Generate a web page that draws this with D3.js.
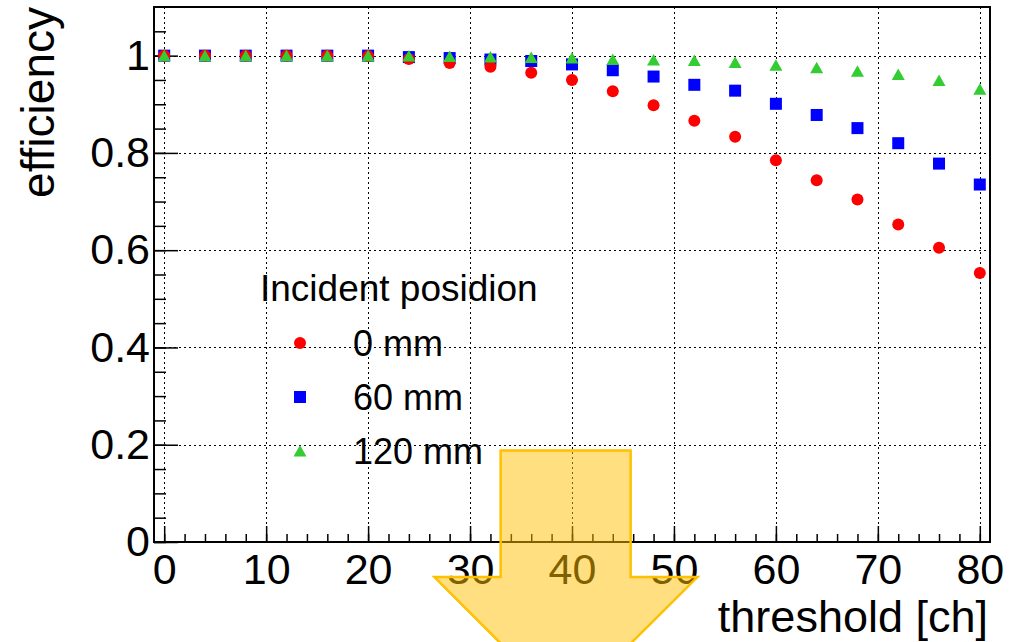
<!DOCTYPE html>
<html>
<head>
<meta charset="utf-8">
<script src="https://cdn.jsdelivr.net/npm/d3@7"></script>
<style>
  body { margin: 0; background: #fff; }
  text { font-family: "Liberation Sans", Arial, Helvetica, sans-serif; fill: #000; }
</style>
</head>
<body>
<svg id="chart" width="1023" height="642"></svg>
<script>
// threshold scan points
const thresholds = [0, 4, 8, 12, 16, 20, 24, 28, 32, 36, 40, 44, 48, 52, 56, 60, 64, 68, 72, 76, 80];
// efficiency per incident position
const eff0mm   = [1, 1, 1, 1, 1, 0.999, 0.993, 0.985, 0.977, 0.965, 0.950, 0.927, 0.898, 0.866, 0.833, 0.785, 0.744, 0.704, 0.653, 0.605, 0.553];
const eff60mm  = [1, 1, 1, 1, 1, 1, 0.997, 0.995, 0.992, 0.989, 0.982, 0.970, 0.957, 0.940, 0.928, 0.901, 0.878, 0.851, 0.820, 0.778, 0.735];
const eff120mm = [1, 1, 1, 1, 1, 1, 0.999, 0.998, 0.997, 0.996, 0.995, 0.992, 0.991, 0.990, 0.986, 0.980, 0.975, 0.968, 0.961, 0.949, 0.931];

const legendTitle = "Incident posidion";
const legendLabels = ["0 mm", "60 mm", "120 mm"];
const xTicks = [0, 10, 20, 30, 40, 50, 60, 70, 80];
const yTicks = [0, 0.2, 0.4, 0.6, 0.8, 1];

// annotation arrow, in data units
const arrowX = [33, 45.75, 26.5, 52.3];
const arrowY = [0.188, -0.072, -0.342];

const svg = d3.select("#chart");
const frame = { left: 154, right: 990, top: 7, bottom: 542 };

const x = d3.scaleLinear().domain([-1, 81]).range([frame.left, frame.right]);
const y = d3.scaleLinear().domain([0, 1.1]).range([frame.bottom, frame.top]);

svg.append("rect").attr("width", 1023).attr("height", 642).attr("fill", "#fff");

// grid
const snap = v => Math.round(v) + 0.5;
const grid = svg.append("g")
  .attr("stroke", "#000")
  .attr("stroke-width", 1)
  .attr("stroke-dasharray", "2,3")
  .attr("shape-rendering", "crispEdges");
grid.selectAll(".vg").data(xTicks).enter().append("line")
  .attr("x1", d => snap(x(d))).attr("x2", d => snap(x(d)))
  .attr("y1", frame.top).attr("y2", frame.bottom);
grid.selectAll(".hg").data(yTicks.filter(d => d > 0)).enter().append("line")
  .attr("x1", frame.left).attr("x2", frame.right)
  .attr("y1", d => snap(y(d))).attr("y2", d => snap(y(d)));

// minor ticks
const xMinor = d3.range(0, 81, 2);
const yMinor = d3.range(0, 1.1, 0.05);

svg.append("g")
  .attr("transform", "translate(0," + frame.bottom + ")")
  .call(d3.axisBottom(x).tickValues(xMinor).tickSize(-8).tickFormat(""))
  .call(g => g.select(".domain").remove())
  .selectAll("line").attr("stroke-width", 1.5);

svg.append("g")
  .attr("transform", "translate(" + frame.left + ",0)")
  .call(d3.axisLeft(y).tickValues(yMinor).tickSize(-12).tickFormat(""))
  .call(g => g.select(".domain").remove())
  .selectAll("line").attr("stroke-width", 1.5);

// major ticks and labels
const xAxis = svg.append("g")
  .attr("transform", "translate(0," + frame.bottom + ")")
  .call(d3.axisBottom(x).tickValues(xTicks).tickSize(-16).tickPadding(11).tickFormat(d3.format("d")))
  .call(g => g.select(".domain").remove());
xAxis.selectAll("line").attr("stroke-width", 1.5);
xAxis.selectAll("text").attr("font-size", 43).attr("font-family", "Liberation Sans, Arial, sans-serif");

const yAxis = svg.append("g")
  .attr("transform", "translate(" + frame.left + ",0)")
  .call(d3.axisLeft(y).tickValues(yTicks).tickSize(-24).tickPadding(4).tickFormat(d => d === 1 ? "1" : d3.format("")(d)))
  .call(g => g.select(".domain").remove());
yAxis.selectAll("line").attr("stroke-width", 1.5);
yAxis.selectAll("text").attr("font-size", 43).attr("font-family", "Liberation Sans, Arial, sans-serif");

// frame
svg.append("rect")
  .attr("x", frame.left).attr("y", frame.top)
  .attr("width", frame.right - frame.left).attr("height", frame.bottom - frame.top)
  .attr("fill", "none").attr("stroke", "#000").attr("stroke-width", 2);

// markers
const triangle = (cx, cy) => "M" + cx + "," + (cy - 6) + "L" + (cx + 6.5) + "," + (cy + 5.5) + "L" + (cx - 6.5) + "," + (cy + 5.5) + "Z";

const series = [
  { values: eff60mm, color: "#0000ff", shape: "square" },
  { values: eff0mm, color: "#ff0000", shape: "circle" },
  { values: eff120mm, color: "#33cc33", shape: "triangle" }
];

function drawMarker(g, shape, color, cx, cy) {
  if (shape === "circle") {
    g.append("circle").attr("cx", cx).attr("cy", cy).attr("r", 6).attr("fill", color);
  } else if (shape === "square") {
    g.append("rect").attr("x", cx - 6).attr("y", cy - 6).attr("width", 12).attr("height", 12)
      .attr("fill", color);
  } else {
    g.append("path").attr("d", triangle(cx, cy)).attr("fill", color);
  }
}

series.forEach(s => {
  const g = svg.append("g");
  s.values.forEach((v, i) => drawMarker(g, s.shape, s.color, x(thresholds[i]), y(v)));
});

// legend
const legend = svg.append("g");
legend.append("text").attr("x", 260).attr("y", 301).attr("font-size", 37).text(legendTitle);
const legendRows = [
  { label: legendLabels[0], color: "#ff0000", shape: "circle" },
  { label: legendLabels[1], color: "#0000ff", shape: "square" },
  { label: legendLabels[2], color: "#33cc33", shape: "triangle" }
];
legendRows.forEach((r, i) => {
  const cy = 343 + i * 54;
  drawMarker(legend, r.shape, r.color, 300, cy);
  legend.append("text").attr("x", 353).attr("y", cy + 13).attr("font-size", 36).text(r.label);
});

// axis titles
svg.append("text")
  .attr("x", 988).attr("y", 632)
  .attr("text-anchor", "end")
  .attr("font-size", 45)
  .text("threshold [ch]");

svg.append("text")
  .attr("transform", "translate(54,7) rotate(-90)")
  .attr("text-anchor", "end")
  .attr("font-size", 46)
  .text("efficiency");

// arrow annotation
const arrowPts = [
  [x(arrowX[0]), y(arrowY[0])],
  [x(arrowX[1]), y(arrowY[0])],
  [x(arrowX[1]), y(arrowY[1])],
  [x(arrowX[3]), y(arrowY[1])],
  [x((arrowX[0] + arrowX[1]) / 2), y(arrowY[2])],
  [x(arrowX[2]), y(arrowY[1])],
  [x(arrowX[0]), y(arrowY[1])]
];
svg.append("path")
  .attr("d", d3.line()(arrowPts) + "Z")
  .attr("fill", "#ffc000")
  .attr("fill-opacity", 0.5)
  .attr("stroke", "#ffc000")
  .attr("stroke-width", 2.5)
  .attr("stroke-linejoin", "miter");
</script>
</body>
</html>
